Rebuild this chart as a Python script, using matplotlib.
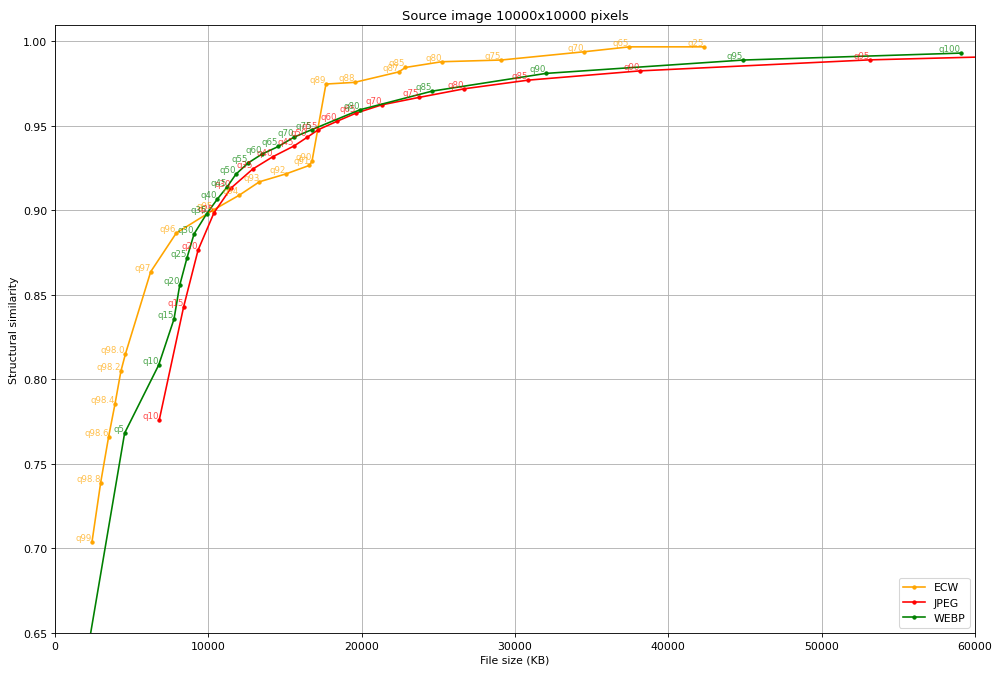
import matplotlib
matplotlib.use('Agg')
import matplotlib.pyplot as plt

# ECW
ecw_labels = ['q99', 'q98.8', 'q98.6', 'q98.4', 'q98.2', 'q98.0', 'q97', 'q96', 'q95', 'q94',
              'q93', 'q92', 'q91', 'q90', 'q89', 'q88', 'q87', 'q85', 'q80', 'q75', 'q70', 'q65', 'q25']
ecw_size = [2410, 2980, 3500, 3910, 4300, 4590, 6240, 7910, 10300, 12020,
            13330, 15070, 16590, 16760, 17670, 19540, 22430, 22850, 25220, 29090, 34520, 37460, 42330]
ecw_ssim = [0.7037, 0.739, 0.7662, 0.7853, 0.8049, 0.8149, 0.8636, 0.8865, 0.900, 0.9089,
            0.9168, 0.9215, 0.9265, 0.9289, 0.9746, 0.9756, 0.9818, 0.9844, 0.9878, 0.9888, 0.9937, 0.9966, 0.9966]

# JPEG
jpeg_labels = ['q10', 'q15', 'q20', 'q25', 'q30', 'q35', 'q40', 'q45', 'q50', 'q55',
               'q60', 'q65', 'q70', 'q75', 'q80', 'q85', 'q90', 'q95', 'q100']
jpeg_size = [6800, 8390, 9330, 10370, 11480, 12890, 14200, 15610, 16460, 17170,
             18370, 19630, 21310, 23740, 26690, 30850, 38170, 53130, 80000]
jpeg_ssim = [0.776, 0.8429, 0.8764, 0.8985, 0.9131, 0.9243, 0.9316, 0.9381, 0.9432, 0.9476,
             0.9525, 0.9574, 0.9623, 0.9667, 0.9718, 0.9769, 0.9824, 0.9889, 0.9952]

# WEBP
webp_labels = ['q0', 'q5', 'q10', 'q15', 'q20', 'q25', 'q30', 'q35', 'q40', 'q45', 'q50',
               'q55', 'q60', 'q65', 'q70', 'q75', 'q80', 'q85', 'q90', 'q95', 'q100']
webp_size = [1390, 4540, 6760, 7760, 8130, 8610, 9070, 9890, 10590, 11220, 11800,
             12590, 13500, 14570, 15590, 16740, 19890, 24590, 32020, 44890, 59070]
webp_ssim = [0.600, 0.7682, 0.8084, 0.8356, 0.8555, 0.8719, 0.886, 0.8979, 0.9066, 0.9137, 0.9213,
             0.9279, 0.9332, 0.9377, 0.9432, 0.9476, 0.9594, 0.9704, 0.9809, 0.9888, 0.9929]

series = [
    ('ECW', ecw_size, ecw_ssim, ecw_labels, 'orange'),
    ('JPEG', jpeg_size, jpeg_ssim, jpeg_labels, 'red'),
    ('WEBP', webp_size, webp_ssim, webp_labels, 'green'),
]

dpi = 1000 / 12.8
fig = plt.figure(figsize=(12.8, 676 / dpi), dpi=dpi)
ax = fig.add_axes([0.055, 0.0621, 0.92, 0.8994])

for name, xs, ys, labels, color in series:
    ax.plot(xs, ys, marker='.', color=color, label=name)
    for x, y, lab in zip(xs, ys, labels):
        ax.annotate(lab, (x, y), ha='right', va='bottom', color=color,
                    alpha=0.7, fontsize=8)

ax.set_xlim(0, 60000)
ax.set_ylim(0.65, 1.0095)
ax.grid(True)
ax.set_title('Source image 10000x10000 pixels')
ax.set_xlabel('File size (KB)')
ax.set_ylabel('Structural similarity')
ax.legend(loc='lower right')

fig.savefig('out.png', dpi=dpi)
